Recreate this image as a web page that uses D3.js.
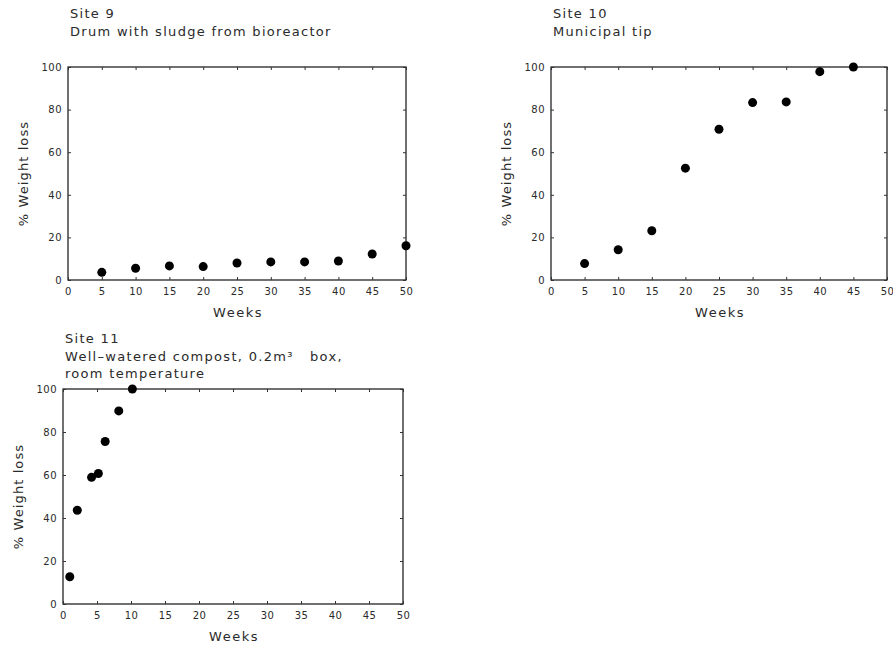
<!DOCTYPE html>
<html>
<head>
<meta charset="utf-8">
<script src="https://cdn.jsdelivr.net/npm/d3@7"></script>
<style>
  body { margin: 0; background: #fff; }
  text { font-family: "DejaVu Sans", sans-serif; fill: #2a2a2a; white-space: pre; }
</style>
</head>
<body>
<div id="chart"></div>
<script>
// data
const site9Weeks = [5, 10, 15, 20, 25, 30, 35, 40, 45, 50];
const site9Loss = [3.6, 5.5, 6.6, 6.3, 8.0, 8.5, 8.5, 8.9, 12.2, 16.1];

const site10Weeks = [5, 10, 15, 20, 25, 30, 35, 40, 45];
const site10Loss = [7.7, 14.2, 23.1, 52.5, 70.8, 83.3, 83.6, 97.8, 100];

const site11Weeks = [1.0, 2.1, 4.2, 5.2, 6.2, 8.2, 10.2];
const site11Loss = [12.7, 43.6, 58.9, 60.7, 75.6, 89.8, 100];

const xTicks = [0, 5, 10, 15, 20, 25, 30, 35, 40, 45, 50];
const yTicks = [0, 20, 40, 60, 80, 100];

const svg = d3.select("#chart").append("svg")
    .attr("width", 893)
    .attr("height", 647);

function drawPanel(box, titles, weeks, loss) {
    const x = d3.scaleLinear().domain([0, 50]).range([box.left, box.right]);
    const y = d3.scaleLinear().domain([0, 100]).range([box.bottom, box.top]);
    const g = svg.append("g");

    // titles
    titles.forEach((t, i) => {
        g.append("text")
         .attr("x", box.left + 2)
         .attr("y", box.titleY + i * 17.5)
         .style("font-size", "13px")
         .style("letter-spacing", "1.3px")
         .text(t);
    });

    // frame
    g.append("rect")
     .attr("x", box.left).attr("y", box.top)
     .attr("width", box.right - box.left)
     .attr("height", box.bottom - box.top)
     .attr("fill", "none")
     .attr("stroke", "#111")
     .attr("stroke-width", 1.2);

    // axes with small inward ticks
    const xAxis = g.append("g")
     .attr("transform", `translate(0,${box.bottom})`)
     .call(d3.axisBottom(x).tickValues(xTicks).tickSize(-3).tickPadding(8));
    const yAxis = g.append("g")
     .attr("transform", `translate(${box.left},0)`)
     .call(d3.axisLeft(y).tickValues(yTicks).tickSize(-3).tickPadding(6));
    g.append("g")
     .attr("transform", `translate(${box.right},0)`)
     .call(d3.axisRight(y).tickValues(yTicks).tickSize(-3).tickFormat(""));
    g.append("g")
     .attr("transform", `translate(0,${box.top})`)
     .call(d3.axisTop(x).tickValues(xTicks).tickSize(-3).tickFormat(""));

    g.selectAll(".domain").remove();
    g.selectAll(".tick line").attr("stroke", "#333");
    [xAxis, yAxis].forEach(a => a.selectAll("text")
        .style("font-size", "10px")
        .style("letter-spacing", "0.5px")
        .style("fill", "#2a2a2a"));

    // axis titles
    g.append("text")
     .attr("x", (box.left + box.right) / 2 + 1)
     .attr("y", box.bottom + 37)
     .attr("text-anchor", "middle")
     .style("font-size", "13px")
     .style("letter-spacing", "1.5px")
     .text("Weeks");

    g.append("text")
     .attr("transform", `translate(${box.left - 40},${(box.top + box.bottom) / 2}) rotate(-90)`)
     .attr("text-anchor", "middle")
     .style("font-size", "13px")
     .style("letter-spacing", "1.1px")
     .text("% Weight loss");

    // points
    g.selectAll(".dot")
     .data(weeks.map((w, i) => ({w: w, v: loss[i]})))
     .enter().append("circle")
     .attr("class", "dot")
     .attr("cx", d => x(d.w))
     .attr("cy", d => y(d.v))
     .attr("r", 4.5)
     .attr("fill", "#000");
}

drawPanel({left: 68, right: 406, top: 67, bottom: 280, titleY: 18},
          ["Site 9", "Drum with sludge from bioreactor"], site9Weeks, site9Loss);
drawPanel({left: 551, right: 887, top: 67, bottom: 280, titleY: 18},
          ["Site 10", "Municipal tip"], site10Weeks, site10Loss);
drawPanel({left: 63, right: 403, top: 389, bottom: 604, titleY: 343},
          ["Site 11", "Well\u2013watered compost, 0.2m\u00b3   box,", "room temperature"],
          site11Weeks, site11Loss);
</script>
</body>
</html>
